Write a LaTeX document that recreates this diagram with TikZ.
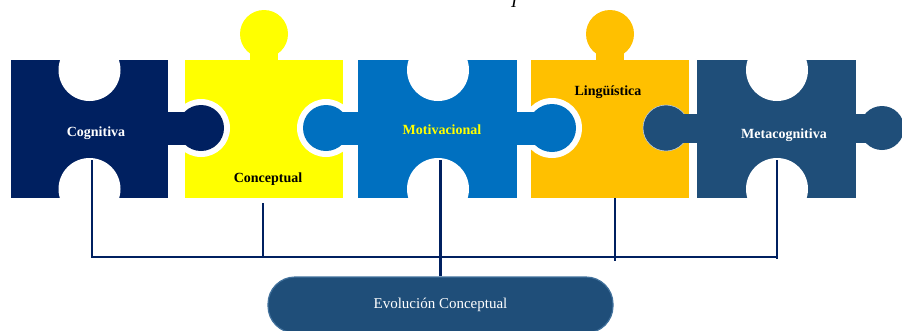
\documentclass[tikz,border=0pt]{standalone}
\usepackage{fontspec}
\setmainfont{Liberation Serif}
\begin{document}
\begin{tikzpicture}[x=1pt,y=-1pt,
  cnavy/.style={fill={rgb,255:red,0;green,32;blue,96}},
  cyel/.style={fill={rgb,255:red,255;green,255;blue,0}},
  cblue/.style={fill={rgb,255:red,0;green,112;blue,192}},
  corange/.style={fill={rgb,255:red,255;green,192;blue,0}},
  csteel/.style={fill={rgb,255:red,31;green,78;blue,121}},
  thinedge/.style={draw={rgb,255:red,190;green,205;blue,225},line width=0.6pt},
  notch/.style={fill=white},
  lbl/.style={font=\fontsize{14}{16}\selectfont\bfseries,inner sep=0pt},
  conn/.style={draw={rgb,255:red,0;green,32;blue,96},line width=2pt},
  connthick/.style={draw={rgb,255:red,0;green,32;blue,96},line width=3pt}]
\useasboundingbox (0,0) rectangle (902,330);
% fragment at top
\node[inner sep=0pt,anchor=base,font=\fontsize{18}{20}\selectfont\itshape] (frag) at (514,7) {I};
% bodies
\path[cnavy] (11,60) rectangle (168,198);
\path[cyel] (185,60) rectangle (343,198);
\path[cblue] (358,60) rectangle (517,198);
\path[corange] (531,60) rectangle (689,198);
\path[csteel] (697,60) rectangle (856,198);
% notches
\foreach \cx in {89.5,438,777}{
  \path[notch] (\cx,70) circle (31);
  \path[notch] (\cx,189) circle (31);
}
\path[notch] (0,20) rectangle (902,60);
% top knobs of yellow and orange
\path[cyel] (264,34) circle (24);
\path[cyel] (250,45) rectangle (278,61);
\path[corange] (610,34) circle (24);
\path[corange] (596,45) rectangle (624,61);
% knob piece 1 -> yellow
\path[notch] (201,128) circle (29);
\path[cnavy] (201,128) circle (23);
\path[cnavy] (166,112) rectangle (190,145);
% knob piece 3 left -> yellow
\path[notch] (326,128) circle (29);
\path[cblue] (326,128) circle (23);
\path[cblue] (335,112) rectangle (360,145);
% knob piece 3 right -> orange
\path[notch] (552,128) circle (30);
\path[cblue] (552,128) circle (24);
\path[cblue] (515,112) rectangle (540,145);
% knob piece 5 left -> orange
\path[csteel,thinedge] (666,128) circle (23);
\path[csteel] (678,114) rectangle (699,143);
% knob piece 5 right
\path[csteel] (882,128) circle (22);
\path[csteel] (854,114) rectangle (870,143);
% labels
\node[lbl,text=white] (cog) at (96,133) {Cognitiva};
\node[lbl,text=black] (con) at (268,179) {Conceptual};
\node[lbl,text={rgb,255:red,255;green,255;blue,0}] (mot) at (442,130) {Motivacional};
\node[lbl,text=black] (lin) at (608,92) {Lingüística};
\node[lbl,text=white] (met) at (784,135) {Metacognitiva};
% bottom node
\node[draw={rgb,255:red,65;green,113;blue,156},line width=1.2pt,
  fill={rgb,255:red,31;green,78;blue,121},rounded corners=27pt,
  minimum width=345pt,minimum height=56pt,inner sep=0pt,
  text=white,font=\fontsize{15}{17}\selectfont] (evo) at (440.5,305) {Evolución Conceptual};
% connector coordinates
\coordinate (a1) at (92,160);
\coordinate (a2) at (92,257);
\coordinate (b1) at (263,203);
\coordinate (b2) at (263,257);
\coordinate (c1) at (440,160);
\coordinate (d1) at (615,198);
\coordinate (d2) at (615,261);
\coordinate (e1) at (777,160);
\coordinate (e2) at (777,259);
\coordinate (e3) at (777,257);
\draw[conn] (a1) -- (a2) -- (e3);
\draw[conn] (b1) -- (b2);
\draw[conn] (d1) -- (d2);
\draw[conn] (e1) -- (e2);
\draw[connthick] (c1) -- (evo.north -| c1);
\end{tikzpicture}
\end{document}
